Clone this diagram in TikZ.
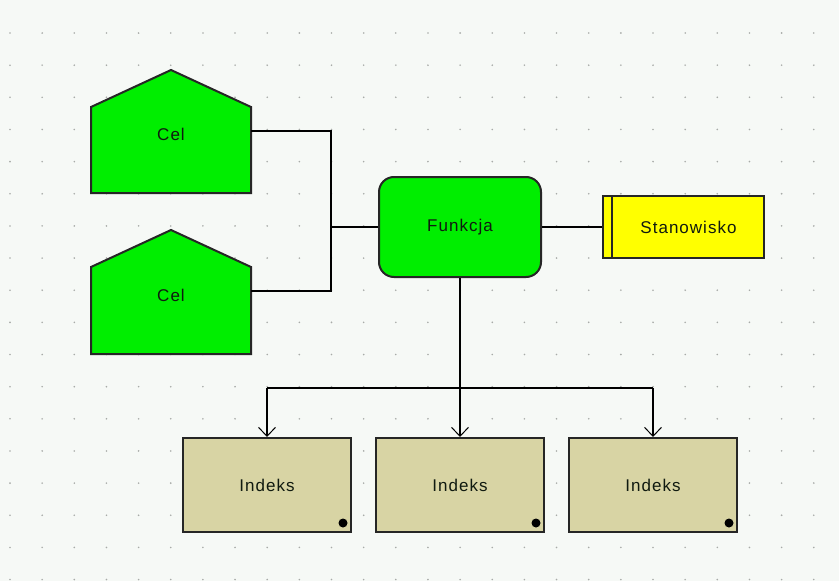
\documentclass[tikz,border=0pt]{standalone}
\usepackage{fontspec}
\setmainfont{Liberation Sans}[LetterSpace=6]
\usetikzlibrary{arrows.meta}
\definecolor{bgc}{HTML}{F6F9F6}
\definecolor{dotc}{HTML}{A8ABA8}
\definecolor{celgreen}{HTML}{00EE00}
\definecolor{stanyellow}{HTML}{FFFF00}
\definecolor{indekstan}{HTML}{D8D4A4}
\definecolor{txt}{HTML}{101A10}
\tikzset{
  x=1pt, y=-1pt,
  lbl/.style={font=\fontsize{17}{19}\selectfont, text=txt, inner sep=0pt},
  celshape/.style={fill=celgreen, draw=black!85, line width=2pt, line join=miter},
  funkbox/.style={lbl, draw=black!85, fill=celgreen, line width=2pt, rounded corners=15pt,
    minimum width=162pt, minimum height=100pt},
  stanbox/.style={lbl, draw=black!85, fill=stanyellow, line width=2pt,
    minimum width=161pt, minimum height=62pt},
  indbox/.style={lbl, draw=black!85, fill=indekstan, line width=2pt,
    minimum width=168pt, minimum height=94pt},
  conn/.style={draw=black, line width=2pt},
  arr/.style={conn, -{Straight Barb[length=9pt,width=17pt,line width=1pt]}},
}
\begin{document}
\begin{tikzpicture}
\useasboundingbox (0,0) rectangle (839,581);
\fill[bgc] (0,0) rectangle (839,581);
\foreach \i in {0,...,25}{
  \foreach \j in {0,...,17}{
    \fill[dotc] ({10+32.15*\i},{33+32.15*\j}) circle (0.9pt);
  }
}
% Cel shapes
\draw[celshape] (91,193) -- (91,107) -- (171,70) -- (251,107) -- (251,193) -- cycle;
\draw[celshape] (91,354) -- (91,267) -- (171,230) -- (251,267) -- (251,354) -- cycle;
\node[lbl] (cel1) at (171,134) {Cel};
\node[lbl] (cel2) at (171,295) {Cel};
\coordinate (cel1e) at (251,131);
\coordinate (cel2e) at (251,291);
% Funkcja
\node[funkbox] (funk) at (460,227) {Funkcja};
% Stanowisko
\node[stanbox] (stan) at (683.5,227) {\hspace*{10pt}Stanowisko};
\draw[black!85, line width=1.5pt] ([xshift=10pt]stan.north west) -- ([xshift=10pt]stan.south west);
% Indeks
\node[indbox] (ind1) at (267,485) {Indeks};
\node[indbox] (ind2) at (460,485) {Indeks};
\node[indbox] (ind3) at (653,485) {Indeks};
\foreach \n in {ind1,ind2,ind3}{
  \fill[black] ([xshift=-9pt,yshift=10pt]\n.south east) circle (4.5pt);
}
% connectors
\coordinate (jx) at (331,227);
\draw[conn] (cel1e) -| (jx);
\draw[conn] (cel2e) -| (jx);
\draw[conn] (jx) -- (funk.west);
\draw[conn] (funk.east) -- (stan.west);
\coordinate (bus) at (460,388);
\draw[conn] (funk.south) -- (bus);
\draw[conn] (ind1.north |- bus) -- (ind3.north |- bus);
\draw[arr] (ind1.north |- bus) -- (ind1.north);
\draw[arr] (bus) -- (ind2.north);
\draw[arr] (ind3.north |- bus) -- (ind3.north);
\end{tikzpicture}
\end{document}
